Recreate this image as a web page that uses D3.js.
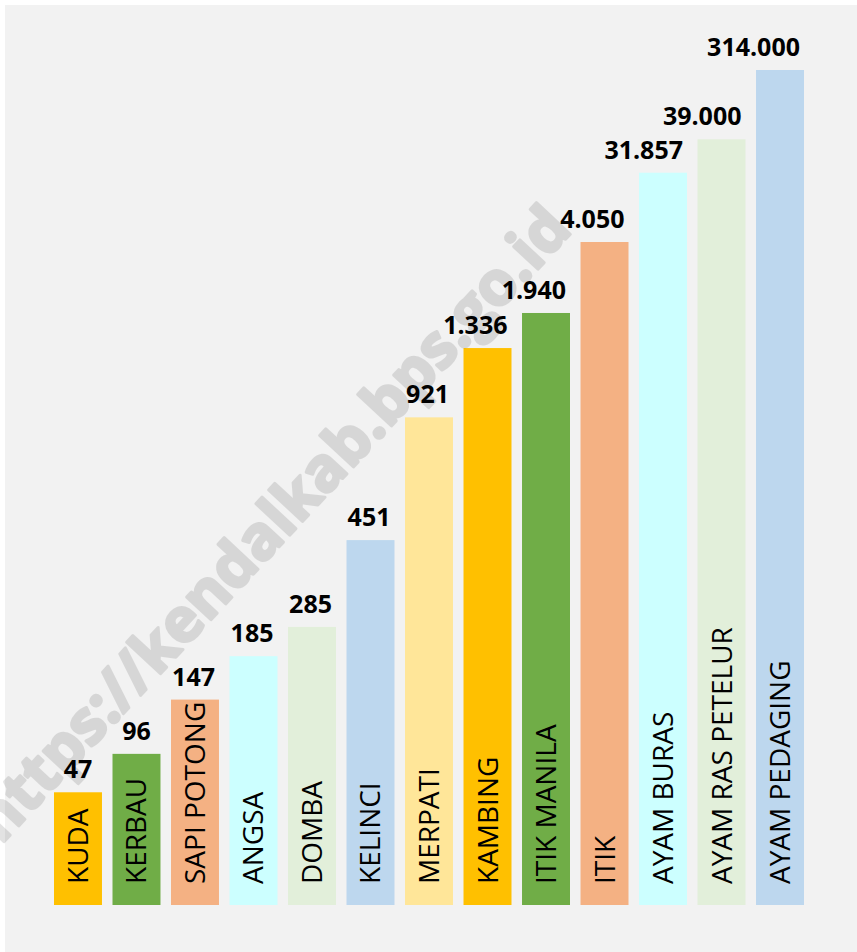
<!DOCTYPE html>
<html>
<head>
<meta charset="utf-8">
<script src="https://cdn.jsdelivr.net/npm/d3@7"></script>
<style>
  body { margin: 0; background: #fff; }
</style>
</head>
<body>
<div id="chart"></div>
<script>
// data ---------------------------------------------------------------------
const jenis = ["KUDA", "KERBAU", "SAPI POTONG", "ANGSA", "DOMBA", "KELINCI", "MERPATI",
               "KAMBING", "ITIK MANILA", "ITIK", "AYAM BURAS", "AYAM RAS PETELUR", "AYAM PEDAGING"];
const populasi = [47, 96, 147, 185, 285, 451, 921, 1336, 1940, 4050, 31857, 39000, 314000];
// the infographic does not draw bars to scale: relative bar height (% of tallest)
const tinggi = [13.5, 18.1, 24.6, 29.8, 33.3, 43.7, 58.4, 66.7, 70.9, 79.4, 87.7, 91.7, 100];
const warna = ["#FFC000", "#70AD47", "#F4B183", "#CCFFFF", "#E2EFDA", "#BDD7EE", "#FFE699",
               "#FFC000", "#70AD47", "#F4B183", "#CCFFFF", "#E2EFDA", "#BDD7EE"];

const width = 857, height = 952;

const data = jenis.map((d, i) => ({ jenis: d, nilai: populasi[i], tinggi: tinggi[i], warna: warna[i] }));

// Indonesian number format: 1.336
const idFormat = d3.formatLocale({ decimal: ",", thousands: ".", grouping: [3], currency: ["Rp", ""] }).format(",d");

const svg = d3.select("#chart")
    .append("svg")
    .attr("width", width)
    .attr("height", height);

// grey panel
svg.append("rect")
    .attr("x", 5)
    .attr("y", 5)
    .attr("width", width - 5)
    .attr("height", height - 5)
    .attr("fill", "#F2F2F2");

const x = d3.scaleBand()
    .domain(jenis)
    .range([54, 804])
    .paddingInner(0.18)
    .paddingOuter(0);

const y = d3.scaleLinear()
    .domain([0, 100])
    .range([905, 70]);

// bars
svg.selectAll("rect.bar")
    .data(data)
    .join("rect")
    .attr("class", "bar")
    .attr("x", d => x(d.jenis))
    .attr("y", d => y(d.tinggi))
    .attr("width", x.bandwidth())
    .attr("height", d => y(0) - y(d.tinggi))
    .attr("fill", d => d.warna);

// category names inside the bars, rotated
svg.selectAll("text.jenis")
    .data(data)
    .join("text")
    .attr("class", "jenis")
    .attr("transform", d => `translate(${x(d.jenis) + x.bandwidth() / 2 + 10},${y(0) - 21}) rotate(-90)`)
    .attr("font-family", "'Open Sans', sans-serif")
    .attr("font-size", 28)
    .attr("fill", "#000")
    .text(d => d.jenis);

// value labels above the bars
svg.selectAll("text.nilai")
    .data(data)
    .join("text")
    .attr("class", "nilai")
    .attr("y", d => y(d.tinggi) - 14)
    .attr("font-family", "'Open Sans', sans-serif")
    .attr("font-weight", "bold")
    .attr("font-size", 25)
    .attr("fill", "#000")
    .attr("text-anchor", "end")
    .text(d => idFormat(d.nilai))
    .attr("x", function(d) {
        const w = this.getComputedTextLength();
        return x(d.jenis) + x.bandwidth() / 2 + Math.min(w / 2, 20);
    });

// watermark (semi transparent, on top of the bars)
svg.append("g")
    .attr("opacity", 0.11)
    .append("text")
    .attr("transform", "translate(270,522) rotate(-47)")
    .attr("text-anchor", "middle")
    .attr("dominant-baseline", "central")
    .attr("font-family", "'Open Sans', sans-serif")
    .attr("font-weight", "bold")
    .attr("font-size", 61)
    .attr("fill", "#000")
    .attr("stroke", "#000")
    .attr("stroke-width", 3)
    .attr("stroke-linejoin", "round")
    .text("https://kendalkab.bps.go.id");
</script>
</body>
</html>
